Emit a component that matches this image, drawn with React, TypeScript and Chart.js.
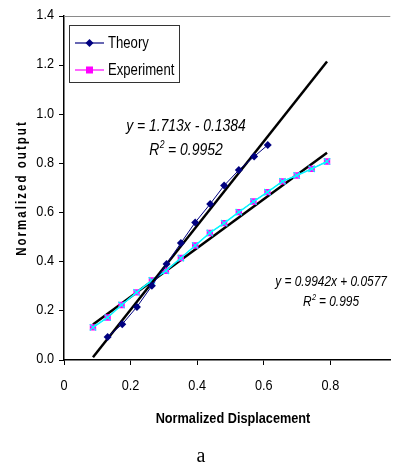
import React, { useEffect, useRef } from "react";
import { Chart, registerables } from "chart.js";
Chart.register(...registerables);

// ---------- data ----------
const theoryX = [0.131, 0.175, 0.219, 0.264, 0.308, 0.351, 0.394, 0.439, 0.481, 0.525, 0.571, 0.612];
const theoryY = [0.094, 0.146, 0.216, 0.302, 0.391, 0.476, 0.56, 0.635, 0.71, 0.773, 0.828, 0.875];
const expX = [0.087, 0.131, 0.173, 0.218, 0.264, 0.306, 0.351, 0.394, 0.438, 0.481, 0.525, 0.569, 0.611, 0.656, 0.699, 0.744, 0.79];
const expY = [0.133, 0.173, 0.224, 0.275, 0.324, 0.363, 0.415, 0.466, 0.517, 0.557, 0.602, 0.645, 0.683, 0.727, 0.751, 0.778, 0.808];
const theoryFitX = [0.087, 0.79];
const theoryFitY = [0.011, 1.215];
const expFitX = [0.087, 0.79];
const expFitY = [0.144, 0.843];
const xTicks = [0, 0.2, 0.4, 0.6, 0.8];
const xTickLabels = ["0", "0.2", "0.4", "0.6", "0.8"];
const yTicks = [0, 0.2, 0.4, 0.6, 0.8, 1.0, 1.2, 1.4];
const yTickLabels = ["0.0", "0.2", "0.4", "0.6", "0.8", "1.0", "1.2", "1.4"];
const seriesNames = ["Theory", "Experiment"];
const theoryEq = "y = 1.713x - 0.1384";
const theoryR2 = " = 0.9952";
const expEq = "y = 0.9942x + 0.0577";
const expR2 = " = 0.995";
const xTitle = "Normalized Displacement";
const yTitle = "Normalized output";
const caption = "a";

// ---------- colours ----------
const NAVY = "#000080";
const MAGENTA = "#FF00FF";
const CYAN = "#00FFFF";

function fontAvailable(name: string) {
  const c = document.createElement("canvas").getContext("2d")!;
  c.font = "20px monospace";
  const a = c.measureText("abcdefghijklmnopWXYZ0123").width;
  c.font = `20px "${name}", monospace`;
  const b = c.measureText("abcdefghijklmnopWXYZ0123").width;
  return Math.abs(a - b) > 0.5;
}

export default function App() {
  const ref = useRef<HTMLCanvasElement | null>(null);
  useEffect(() => {
    const narrowOK = fontAvailable("Liberation Sans Narrow");
    const FAM = narrowOK ? "'Liberation Sans Narrow'" : "'Liberation Sans', Arial, sans-serif";
    const SX = narrowOK ? 1 : 0.82;

    const setFont = (ctx: CanvasRenderingContext2D, size: number, bold = false, italic = false) => {
      ctx.font = `${italic ? "italic " : ""}${bold ? "bold " : ""}${size}px ${FAM}`;
    };
    const txt = (
      ctx: CanvasRenderingContext2D,
      s: string,
      x: number,
      y: number,
      size: number,
      o: { bold?: boolean; italic?: boolean; align?: CanvasTextAlign; baseline?: CanvasTextBaseline; rot?: number; spacing?: number } = {}
    ) => {
      ctx.save();
      setFont(ctx, size, o.bold, o.italic);
      (ctx as any).letterSpacing = `${o.spacing || 0}px`;
      ctx.fillStyle = "#000";
      ctx.textAlign = o.align || "left";
      ctx.textBaseline = o.baseline || "alphabetic";
      ctx.translate(x, y);
      if (o.rot) ctx.rotate(o.rot);
      ctx.scale(SX, 1);
      ctx.fillText(s, 0, 0);
      ctx.restore();
    };
    // R^2 composite, centered at cx
    const r2 = (ctx: CanvasRenderingContext2D, rest: string, cx: number, base: number, size: number) => {
      ctx.save();
      setFont(ctx, size, false, true);
      const wR = ctx.measureText("R").width * SX;
      const wRest = ctx.measureText(rest).width * SX;
      setFont(ctx, size * 0.62, false, true);
      const w2 = ctx.measureText("2").width * SX;
      ctx.restore();
      const total = wR + w2 + wRest;
      let x = cx - total / 2;
      txt(ctx, "R", x, base, size, { italic: true });
      x += wR;
      txt(ctx, "2", x + 0.5, base - size * 0.42, size * 0.62, { italic: true });
      x += w2;
      txt(ctx, rest, x, base, size, { italic: true });
    };
    const diamond = (ctx: CanvasRenderingContext2D, x: number, y: number, r: number, c: string) => {
      ctx.beginPath();
      ctx.moveTo(x, y - r);
      ctx.lineTo(x + r, y);
      ctx.lineTo(x, y + r);
      ctx.lineTo(x - r, y);
      ctx.closePath();
      ctx.fillStyle = c;
      ctx.fill();
    };

    const decor = {
      id: "decor",
      afterDraw(chart: any) {
        const ctx: CanvasRenderingContext2D = chart.ctx;
        const { chartArea } = chart;
        const xs = chart.scales.x;
        const ys = chart.scales.y;
        // top plot border
        ctx.save();
        ctx.strokeStyle = "#8a8a8a";
        ctx.lineWidth = 1;
        ctx.beginPath();
        ctx.moveTo(chartArea.left, chartArea.top + 0.5);
        ctx.lineTo(chartArea.right, chartArea.top + 0.5);
        ctx.stroke();
        ctx.restore();
        // tick labels
        yTicks.forEach((v, i) => {
          txt(ctx, yTickLabels[i], chartArea.left - 10, ys.getPixelForValue(v) - 1, 15.5, { align: "right", baseline: "middle" });
        });
        xTicks.forEach((v, i) => {
          txt(ctx, xTickLabels[i], xs.getPixelForValue(v), chartArea.bottom + 26, 15.5, { align: "center", baseline: "middle" });
        });
        // axis titles
        txt(ctx, xTitle, 233, 423, 15.5, { bold: true, align: "center" });
        txt(ctx, yTitle, 26, (chartArea.top + chartArea.bottom) / 2, 14, {
          bold: true,
          align: "center",
          rot: -Math.PI / 2,
          spacing: 2.5,
        });
        // caption
        ctx.save();
        ctx.font = "20px 'Liberation Serif', 'Times New Roman', serif";
        ctx.fillStyle = "#000";
        ctx.textAlign = "center";
        ctx.fillText(caption, 201, 462);
        ctx.restore();
        // equations
        txt(ctx, theoryEq, 186, 131, 17, { italic: true, align: "center" });
        r2(ctx, theoryR2, 186, 155, 17);
        txt(ctx, expEq, 331, 286, 14.5, { italic: true, align: "center" });
        r2(ctx, expR2, 331, 306, 14.5);
        // legend
        ctx.save();
        ctx.fillStyle = "#fff";
        ctx.fillRect(69.5, 25.5, 110, 57);
        ctx.strokeStyle = "#333";
        ctx.lineWidth = 1;
        ctx.strokeRect(69.5, 25.5, 110, 57);
        const rows = [43, 70];
        const cols = [NAVY, MAGENTA];
        rows.forEach((ry, i) => {
          ctx.strokeStyle = cols[i];
          ctx.lineWidth = 1.2;
          ctx.beginPath();
          ctx.moveTo(75, ry);
          ctx.lineTo(104, ry);
          ctx.stroke();
          if (i === 0) diamond(ctx, 89.5, ry, 4, NAVY);
          else {
            ctx.fillStyle = MAGENTA;
            ctx.fillRect(86, ry - 3.5, 7, 7);
          }
          txt(ctx, seriesNames[i], 108, ry + 0.5, 16, { baseline: "middle" });
        });
        ctx.restore();
      },
    };

    const pts = (xa: number[], ya: number[]) => xa.map((x, i) => ({ x, y: ya[i] }));
    const chart = new Chart(ref.current!, {
      type: "scatter",
      data: {
        datasets: [
          {
            label: seriesNames[0],
            data: pts(theoryX, theoryY),
            showLine: true,
            borderColor: NAVY,
            backgroundColor: NAVY,
            borderWidth: 1,
            pointStyle: "rectRot",
            pointRadius: 4,
            pointBorderWidth: 0,
          },
          {
            label: "fit-theory",
            data: pts(theoryFitX, theoryFitY),
            showLine: true,
            borderColor: "#000",
            borderWidth: 2.5,
            pointRadius: 0,
          },
          {
            label: "exp-cross",
            data: pts(expX, expY),
            showLine: true,
            borderColor: CYAN,
            backgroundColor: CYAN,
            borderWidth: 1.5,
            pointStyle: "crossRot",
            pointRadius: 4.5,
            pointBorderWidth: 1.2,
          },
          {
            label: seriesNames[1],
            data: pts(expX, expY),
            showLine: true,
            borderColor: MAGENTA,
            backgroundColor: MAGENTA,
            borderWidth: 1,
            pointStyle: "rect",
            pointRadius: 4.5,
            pointBorderWidth: 0,
          },
          {
            label: "fit-exp",
            data: pts(expFitX, expFitY),
            showLine: true,
            borderColor: "#000",
            borderWidth: 2.5,
            pointRadius: 0,
          },
        ],
      },
      options: {
        responsive: false,
        animation: false,
        layout: { padding: { top: 16, left: 0, right: 0, bottom: 0 } },
        plugins: { legend: { display: false }, tooltip: { enabled: false } },
        elements: { line: { tension: 0 } },
        scales: {
          x: {
            type: "linear",
            min: 0,
            max: 0.98,
            afterBuildTicks: (s: any) => {
              s.ticks = xTicks.map((v) => ({ value: v }));
            },
            afterFit: (s: any) => {
              s.height = 106;
            },
            ticks: { display: false },
            grid: { drawOnChartArea: false, drawTicks: true, tickLength: 5, color: "#000", lineWidth: 1 },
            border: { color: "#000", width: 1.5 },
          },
          y: {
            type: "linear",
            min: 0,
            max: 1.4,
            afterBuildTicks: (s: any) => {
              s.ticks = yTicks.map((v) => ({ value: v }));
            },
            afterFit: (s: any) => {
              s.width = 64;
            },
            ticks: { display: false },
            grid: { drawOnChartArea: false, drawTicks: true, tickLength: 5, color: "#000", lineWidth: 1 },
            border: { color: "#000", width: 1.5 },
          },
        },
      },
      plugins: [decor],
    } as any);
    return () => chart.destroy();
  }, []);

  return (
    <div style={{ position: "absolute", left: 0, top: 0, width: 396, height: 466, background: "#fff" }}>
      <canvas ref={ref} width={396} height={466} style={{ display: "block", width: 396, height: 466 }} />
    </div>
  );
}
